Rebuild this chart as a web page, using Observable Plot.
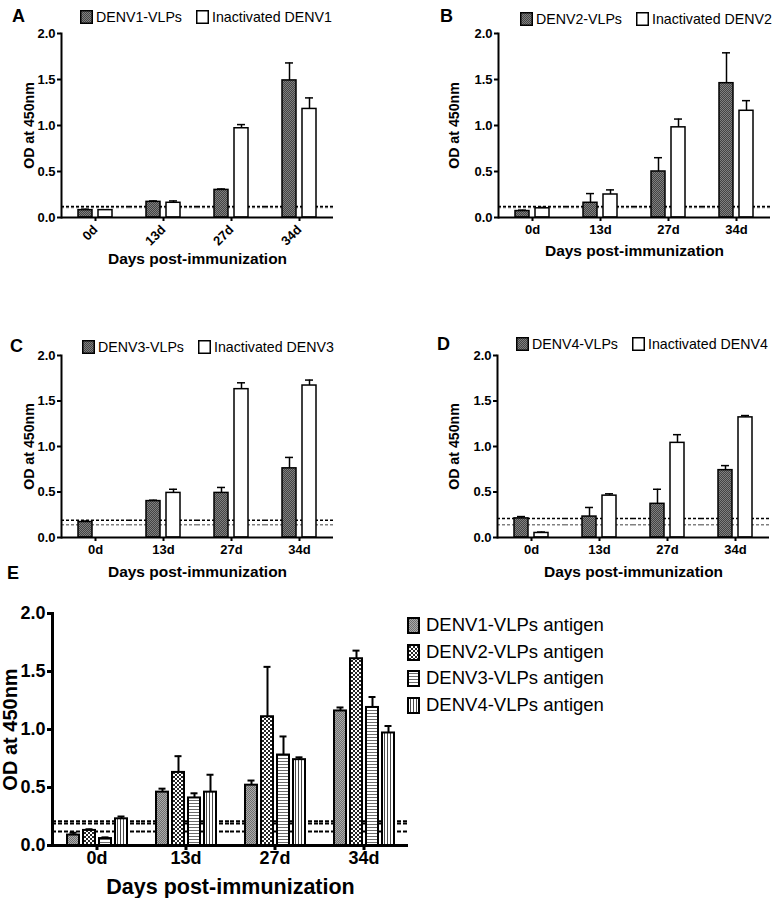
<!DOCTYPE html>
<html>
<head>
<meta charset="utf-8">
<script src="https://cdn.jsdelivr.net/npm/d3@7"></script>
<script src="https://cdn.jsdelivr.net/npm/@observablehq/plot@0.6"></script>
<style>
body { margin: 0; background: #fff; }
#fig { position: relative; width: 778px; height: 898px; overflow: hidden; background: #fff;
  font-family: Arial, "Liberation Sans", Helvetica, sans-serif; color: #000; }
.panel { position: absolute; }
.letter { position: absolute; font-weight: bold; font-size: 18px; line-height: 1; }
.leg { position: absolute; display: flex; align-items: center; white-space: nowrap; line-height: 1; font-size: 14.2px; }
.leg .item { display: flex; align-items: center; margin-right: 14px; }
.leg svg { margin-right: 3px; display: block; }
.legE { position: absolute; white-space: nowrap; line-height: 1; font-size: 18.5px; }
.legE .item { display: flex; align-items: center; height: 26.7px; }
.legE svg { margin-right: 6px; display: block; }
.small g[aria-label="y-axis label"] { font-size: 14.2px; }
.small g[aria-label="fx-axis label"] { font-size: 15.5px; }
.big g[aria-label="y-axis label"] { font-size: 20px; }
.big g[aria-label="fx-axis label"] { font-size: 21.5px; }
</style>
</head>
<body>
<svg width="0" height="0" style="position:absolute">
  <defs>
    <pattern id="pDark" width="2" height="2" patternUnits="userSpaceOnUse">
      <rect width="2" height="2" fill="#808080"/>
      <rect width="1" height="1" fill="#444444"/>
      <rect x="1" y="1" width="1" height="1" fill="#444444"/>
    </pattern>
    <pattern id="pE1" width="2" height="2" patternUnits="userSpaceOnUse">
      <rect width="2" height="2" fill="#ababab"/>
      <rect width="1" height="1" fill="#6e6e6e"/>
      <rect x="1" y="1" width="1" height="1" fill="#6e6e6e"/>
    </pattern>
    <pattern id="pE2" width="4" height="4" patternUnits="userSpaceOnUse">
      <rect width="4" height="4" fill="#ffffff"/>
      <rect width="2" height="2" fill="#262626"/>
      <rect x="2" y="2" width="2" height="2" fill="#262626"/>
    </pattern>
    <pattern id="pE3" width="3" height="3" patternUnits="userSpaceOnUse">
      <rect width="3" height="3" fill="#ffffff"/>
      <rect width="3" height="1" fill="#6a6a6a"/>
    </pattern>
    <pattern id="pE4" width="3" height="3" patternUnits="userSpaceOnUse">
      <rect width="3" height="3" fill="#ffffff"/>
      <rect width="1" height="3" fill="#4a4a4a"/>
    </pattern>
  </defs>
</svg>
<div id="fig"></div>
<script>
// ---------------- data ----------------
const days = ["0d", "13d", "27d", "34d"];
const yTicks = [0, 0.5, 1.0, 1.5, 2.0];
const yLabel = "OD at 450nm";
const xLabel = "Days post-immunization";

// Panel A
const seriesA = ["DENV1-VLPs", "Inactivated DENV1"];
const vlpA = [0.08, 0.17, 0.30, 1.49];
const vlpSemA = [0.01, 0.01, 0.01, 0.19];
const inactA = [0.08, 0.16, 0.97, 1.18];
const inactSemA = [0.0, 0.02, 0.04, 0.12];
const cutBlackA = [0.12];
const cutGrayA = [0.11];

// Panel B
const seriesB = ["DENV2-VLPs", "Inactivated DENV2"];
const vlpB = [0.07, 0.16, 0.50, 1.46];
const vlpSemB = [0.01, 0.10, 0.15, 0.33];
const inactB = [0.10, 0.25, 0.98, 1.16];
const inactSemB = [0.01, 0.05, 0.09, 0.11];
const cutBlackB = [0.12];
const cutGrayB = [0.11];

// Panel C
const seriesC = ["DENV3-VLPs", "Inactivated DENV3"];
const vlpC = [0.17, 0.40, 0.49, 0.76];
const vlpSemC = [0.01, 0.01, 0.06, 0.12];
const inactC = [null, 0.49, 1.63, 1.67];
const inactSemC = [null, 0.04, 0.07, 0.06];
const cutBlackC = [0.19];
const cutGrayC = [0.14];

// Panel D
const seriesD = ["DENV4-VLPs", "Inactivated DENV4"];
const vlpD = [0.21, 0.23, 0.37, 0.74];
const vlpSemD = [0.02, 0.10, 0.16, 0.05];
const inactD = [0.05, 0.46, 1.04, 1.32];
const inactSemD = [0.01, 0.02, 0.09, 0.02];
const cutBlackD = [0.21];
const cutGrayD = [0.14];

// Panel E
const seriesE = ["DENV1-VLPs antigen", "DENV2-VLPs antigen", "DENV3-VLPs antigen", "DENV4-VLPs antigen"];
const d1E = [0.09, 0.46, 0.52, 1.16];
const d1SemE = [0.02, 0.03, 0.04, 0.03];
const d2E = [0.13, 0.63, 1.11, 1.61];
const d2SemE = [0.01, 0.14, 0.43, 0.07];
const d3E = [0.06, 0.41, 0.78, 1.19];
const d3SemE = [0.01, 0.04, 0.16, 0.09];
const d4E = [0.23, 0.46, 0.74, 0.97];
const d4SemE = [0.02, 0.15, 0.02, 0.06];
const cutBlackE = [0.21, 0.19, 0.12];
const cutGrayE = [];

// ---------------- styles ----------------
const fillsAD = ["url(#pDark)", "#ffffff"];
const fillsE = ["url(#pE1)", "url(#pE2)", "url(#pE3)", "url(#pE4)"];
const fontFam = 'Arial, "Liberation Sans", Helvetica, sans-serif';

function makeRows(series, values, sems) {
  const out = [];
  series.forEach((s, i) => days.forEach((d, j) => {
    const v = values[i][j];
    if (v == null) return;
    const e = sems[i][j] || 0;
    out.push({day: d, series: s, value: v, sem: e, top: v + e});
  }));
  return out;
}

const fig = document.getElementById("fig");

function drawPanel(cfg) {
  const data = makeRows(cfg.series, cfg.values, cfg.sems);
  const errs = data.filter(d => d.sem > 0);
  const plot = Plot.plot({
    width: cfg.width, height: cfg.height,
    marginLeft: cfg.m[0], marginTop: cfg.m[1], marginRight: cfg.m[2], marginBottom: cfg.m[3],
    style: {fontFamily: fontFam, fontSize: cfg.tickFont + "px", fontWeight: "bold", background: "transparent", overflow: "visible", color: "#000"},
    fx: {domain: days, padding: 0, label: null},
    x: {domain: cfg.series, paddingInner: cfg.pi, paddingOuter: cfg.po, axis: null},
    y: {domain: [0, 2], label: null},
    marks: [
      Plot.ruleY(cfg.cutGray, {stroke: "#808080", strokeWidth: cfg.cutW, strokeDasharray: cfg.dash}),
      Plot.ruleY(cfg.cutBlack, {stroke: "#000", strokeWidth: cfg.cutW, strokeDasharray: cfg.dash}),
      ...cfg.series.map((s, i) => Plot.barY(data.filter(d => d.series === s), {
        fx: "day", x: "series", y: "value", fill: cfg.fills[i], stroke: "#000", strokeWidth: cfg.barW
      })),
      Plot.ruleX(errs, {fx: "day", x: "series", y1: "value", y2: "top", stroke: "#000", strokeWidth: cfg.errW}),
      Plot.tickY(errs, {fx: "day", x: "series", y: "top", stroke: "#000", strokeWidth: cfg.errW, insetLeft: cfg.cap, insetRight: cfg.cap}),
      Plot.ruleY([0], {stroke: "#000", strokeWidth: cfg.axisW}),
      Plot.frame({anchor: "left", fx: () => days[0], stroke: "#000", strokeWidth: cfg.axisW}),
      Plot.axisY({ticks: yTicks, tickFormat: d3.format(".1f"), tickSize: cfg.tickSize, tickPadding: 2,
        strokeWidth: cfg.axisW, label: yLabel, labelArrow: false, labelAnchor: "center", labelOffset: cfg.yLabOff}),
      Plot.axisFx({anchor: "bottom", tickSize: cfg.tickSize, tickPadding: cfg.xTickPad, strokeWidth: cfg.axisW,
        tickRotate: cfg.rot, label: xLabel, labelArrow: false, labelAnchor: "center", labelOffset: cfg.xLabOff})
    ]
  });
  const wrap = document.createElement("div");
  wrap.className = "panel " + cfg.cls;
  wrap.style.left = cfg.left + "px";
  wrap.style.top = cfg.top + "px";
  wrap.appendChild(plot);
  fig.appendChild(wrap);
}

function swatch(fill, w, h, sw) {
  const ns = "http://www.w3.org/2000/svg";
  const svg = document.createElementNS(ns, "svg");
  svg.setAttribute("width", w); svg.setAttribute("height", h);
  const r = document.createElementNS(ns, "rect");
  r.setAttribute("x", sw / 2); r.setAttribute("y", sw / 2);
  r.setAttribute("width", w - sw); r.setAttribute("height", h - sw);
  r.setAttribute("fill", fill); r.setAttribute("stroke", "#000"); r.setAttribute("stroke-width", sw);
  svg.appendChild(r);
  return svg;
}

function legendRow(series, fills, left, top) {
  const div = document.createElement("div");
  div.className = "leg";
  div.style.left = left + "px"; div.style.top = top + "px";
  series.forEach((s, i) => {
    const it = document.createElement("div"); it.className = "item";
    it.appendChild(swatch(fills[i], 13, 14, 1.5));
    const t = document.createElement("span"); t.textContent = s;
    it.appendChild(t); div.appendChild(it);
  });
  fig.appendChild(div);
}

function legendCol(series, fills, left, top) {
  const div = document.createElement("div");
  div.className = "legE";
  div.style.left = left + "px"; div.style.top = top + "px";
  series.forEach((s, i) => {
    const it = document.createElement("div"); it.className = "item";
    it.appendChild(swatch(fills[i], 13, 17, 2));
    const t = document.createElement("span"); t.textContent = s;
    it.appendChild(t); div.appendChild(it);
  });
  fig.appendChild(div);
}

function letter(txt, left, top) {
  const d = document.createElement("div");
  d.className = "letter"; d.textContent = txt;
  d.style.left = left + "px"; d.style.top = top + "px";
  fig.appendChild(d);
}

const small = {tickFont: 13, pi: 0.29, po: 0.81, barW: 1.5, errW: 1.5, cap: 3, axisW: 2, cutW: 1.5, dash: "3,2", tickSize: 4, xTickPad: 3, cls: "small"};

drawPanel({...small, series: seriesA, values: [vlpA, inactA], sems: [vlpSemA, inactSemA], fills: fillsAD,
  cutBlack: cutBlackA, cutGray: cutGrayA, left: 0, top: 0, width: 390, height: 275, m: [60, 33, 57, 58],
  rot: -45, xTickPad: 6, yLabOff: 38, xLabOff: 46});
drawPanel({...small, series: seriesB, values: [vlpB, inactB], sems: [vlpSemB, inactSemB], fills: fillsAD,
  cutBlack: cutBlackB, cutGray: cutGrayB, left: 390, top: 0, width: 388, height: 275, m: [107, 33, 8, 58],
  rot: 0, yLabOff: 50, xLabOff: 38});
drawPanel({...small, series: seriesC, values: [vlpC, inactC], sems: [vlpSemC, inactSemC], fills: fillsAD,
  cutBlack: cutBlackC, cutGray: cutGrayC, left: 0, top: 270, width: 390, height: 320, m: [60, 85, 57, 53],
  rot: 0, yLabOff: 38, xLabOff: 39});
drawPanel({...small, series: seriesD, values: [vlpD, inactD], sems: [vlpSemD, inactSemD], fills: fillsAD,
  cutBlack: cutBlackD, cutGray: cutGrayD, left: 390, top: 270, width: 388, height: 320, m: [106, 85, 8, 53],
  rot: 0, yLabOff: 49, xLabOff: 39});
drawPanel({tickFont: 18, pi: 0.28, po: 0.805, barW: 2, errW: 2, cap: 2.5, axisW: 3, cutW: 2, dash: "4,2",
  tickSize: 5, xTickPad: 1, cls: "big",
  series: seriesE, values: [d1E, d2E, d3E, d4E], sems: [d1SemE, d2SemE, d3SemE, d4SemE], fills: fillsE,
  cutBlack: cutBlackE, cutGray: cutGrayE, left: 0, top: 560, width: 430, height: 338, m: [52, 53, 22, 53],
  rot: 0, yLabOff: 50, xLabOff: 48});

legendRow(seriesA, fillsAD, 80, 10);
legendRow(seriesB, fillsAD, 520, 12);
legendRow(seriesC, fillsAD, 82, 340);
legendRow(seriesD, fillsAD, 516, 337);
legendCol(seriesE, fillsE, 407, 612);

letter("A", 12, 7);
letter("B", 440, 7);
letter("C", 10, 337);
letter("D", 437, 335);
letter("E", 7, 564);
</script>
</body>
</html>
